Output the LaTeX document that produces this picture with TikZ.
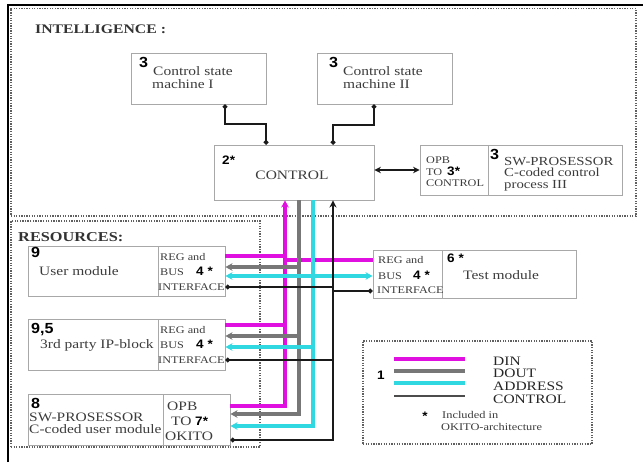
\documentclass[tikz,border=0pt]{standalone}
\usepackage{fontspec}
\setmainfont[FakeStretch=1.2]{Liberation Serif}
\newfontfamily\numfont[FakeStretch=1.1]{Liberation Sans}
\usetikzlibrary{arrows.meta,fit}
\definecolor{busm}{HTML}{E010E0}
\definecolor{busc}{HTML}{30D8E2}
\definecolor{busg}{HTML}{777777}
\definecolor{busk}{HTML}{1A1A1A}
\definecolor{boxgray}{HTML}{A8A8A8}
\definecolor{framegray}{HTML}{606060}
\definecolor{txtgray}{HTML}{3C3C3C}
\tikzset{
  box/.style={draw=boxgray, line width=0.8pt, inner sep=0pt},
  frame/.style={draw=framegray, line width=1pt, dash pattern=on 1.1pt off 1.1pt},
  tx/.style={inner sep=0pt, anchor=base west, text=txtgray, font=\fontsize{11}{12}\selectfont},
  sm/.style={tx, font=\fontsize{8.7}{10}\selectfont},
  lg/.style={tx, text=black!85, font=\fontsize{11}{12}\selectfont},
  hd/.style={tx, text=black!80, font=\bfseries\fontsize{11.2}{12}\selectfont},
  nb/.style={inner sep=0pt, anchor=base west, text=black, font=\numfont\bfseries\fontsize{12.5}{13}\selectfont},
  nbs/.style={nb, font=\numfont\bfseries\fontsize{10.5}{11}\selectfont},
  mag/.style={draw=busm, line width=3pt},
  gry/.style={draw=busg, line width=2.6pt},
  cya/.style={draw=busc, line width=3pt},
  blk/.style={draw=busk, line width=1.8pt},
  link/.style={draw=busk, line width=2.2pt},
  tipS/.tip={Stealth[length=6pt,width=6.5pt]},
  tipD/.tip={Circle[length=3.8pt]},
}
\begin{document}
\begin{tikzpicture}[x=0.03cm,y=-0.03cm]
\useasboundingbox (0,0) rectangle (643,462);
% outer frame
\draw[line width=1.8pt] (8,462) -- (8,5) -- (643,5);
% dotted areas
\node[frame, inner sep=0pt, fit={(11,8.5)(636,216)}] (intel) {};
\node[frame, inner sep=0pt, fit={(11,221)(260,447)}] (res) {};
\node[hd] (intelt) at (35,33) {INTELLIGENCE :};
\node[hd, font=\bfseries\fontsize{11.6}{12}\selectfont] (rest) at (18,241) {RESOURCES:};

% boxes
\node[box, fit={(131,53)(266,104)}] (csm1) {};
\node[box, fit={(317,53)(452,104)}] (csm2) {};
\node[box, fit={(214,145)(374,200)}] (ctrl) {};
\node[box, fit={(420,145)(488,195)}] (opb) {};
\node[box, fit={(488,145)(622,195)}] (sw3) {};
\node[box, fit={(28,246)(158,296)}] (um) {};
\node[box, fit={(158,246)(225,296)}] (umi) {};
\node[box, fit={(28,319)(158,370)}] (ip) {};
\node[box, fit={(158,319)(225,370)}] (ipi) {};
\node[box, fit={(28,394)(163,445)}] (swu) {};
\node[box, fit={(163,394)(230,445)}] (swi) {};
\node[box, fit={(373,250)(442,298)}] (tmi) {};
\node[box, fit={(442,250)(576,298)}] (tm) {};
\node[frame, inner sep=0pt, fit={(363,341)(592,444)}] (leg) {};

% texts
\node[nb] (n1) at (139,67) {3};
\node[tx] (t1a) at (153,75) {Control state};
\node[tx] (t1b) at (152,88) {machine I};
\node[nb] (n2) at (329,67) {3};
\node[tx] (t2a) at (343,75) {Control state};
\node[tx] (t2b) at (343,88) {machine II};
\node[nbs] (n3) at (222,164) {2*};
\node[tx, anchor=base] (t3) at (292,179) {CONTROL};
\node[sm] (o1) at (426,163) {OPB};
\node[sm] (o2) at (426,175) {TO};
\node[nbs] (o3) at (447,175) {3*};
\node[sm] (o4) at (426,186) {CONTROL};
\node[nb] (n4) at (490,159) {3};
\node[tx, font=\fontsize{10.5}{11}\selectfont] (s1) at (504,165) {SW-PROSESSOR};
\node[tx, font=\fontsize{10.5}{11}\selectfont] (s2) at (504,176.5) {C-coded control};
\node[tx, font=\fontsize{10.5}{11}\selectfont] (s3) at (504,188) {process III};

\node[nb] (n5) at (31,257) {9};
\node[tx] (u1) at (39,275) {User module};
\node[sm] (u2) at (160,260) {REG and};
\node[sm] (u3) at (160,275) {BUS};
\node[nbs] (u4) at (196,275) {4 *};
\node[sm] (u5) at (158,290) {INTERFACE};

\node[nb] (n6) at (31,333) {9,5};
\node[tx] (p1) at (40,348) {3rd party IP-block};
\node[sm] (p2) at (160,333) {REG and};
\node[sm] (p3) at (160,348) {BUS};
\node[nbs] (p4) at (196,348) {4 *};
\node[sm] (p5) at (158,363) {INTERFACE};

\node[nb] (n7) at (31,408) {8};
\node[tx] (w1) at (29,421) {SW-PROSESSOR};
\node[tx] (w2) at (29,433) {C-coded user module};
\node[tx] (w3) at (167,410) {OPB};
\node[tx] (w4) at (171,425) {TO};
\node[nbs] (w5) at (195,425) {7*};
\node[tx] (w6) at (165,440) {OKITO};

\node[sm] (e1) at (378,263) {REG and};
\node[sm] (e2) at (378,279) {BUS};
\node[nbs] (e3) at (413,279) {4 *};
\node[sm] (e4) at (377,293) {INTERFACE};
\node[nbs] (n8) at (447,262) {6 *};
\node[tx] (e5) at (463,279) {Test module};

% legend
\node[nbs] (l0) at (377,379) {1};
\node[lg] (l1) at (493,365) {DIN};
\node[lg] (l2) at (493,377) {DOUT};
\node[lg] (l3) at (493,390) {ADDRESS};
\node[lg] (l4) at (493,403) {CONTROL};
\node[nbs, anchor=center] (l5) at (425,416) {*};
\node[sm, font=\fontsize{8.8}{10}\selectfont] (l6) at (442,418) {Included in};
\node[sm, font=\fontsize{8.8}{10}\selectfont] (l7) at (441,430) {OKITO-architecture};
\draw[mag] (394,359) -- (465,359);
\draw[gry] (394,371) -- (465,371);
\draw[cya] (394,383) -- (465,383);
\draw[blk, line width=2.2pt, draw=black!70] (394,396) -- (465,396);

% intelligence connectors
\coordinate (k1) at (225,124);
\coordinate (k2) at (266,124);
\draw[link, tipD-tipD] (csm1.south -| k1) -- (k1) -- (k2) -- (ctrl.north -| k2);
\coordinate (k3) at (374,125);
\coordinate (k4) at (333,125);
\draw[link, tipD-tipD] (csm2.south -| k3) -- (k3) -- (k4) -- (ctrl.north -| k4);
\coordinate (y170) at (0,170);
\draw[blk, {Stealth[length=5.5pt,width=5.5pt]}-{Stealth[length=5.5pt,width=5.5pt]}] (ctrl.east |- y170) -- (opb.west |- y170);

% bus x positions
\coordinate (xm) at (285,0);
\coordinate (xg) at (299,0);
\coordinate (xc) at (313,0);
\coordinate (xk) at (333,0);
\coordinate (ya) at (0,256);
\coordinate (yb) at (0,260);
\coordinate (yc) at (0,267);
\coordinate (yd) at (0,276);
\coordinate (ye) at (0,287);
\coordinate (yf) at (0,291);
\coordinate (yg) at (0,325);
\coordinate (yh) at (0,336);
\coordinate (yi) at (0,347);
\coordinate (yj) at (0,360);
\coordinate (yk) at (0,406);
\coordinate (yl) at (0,414);
\coordinate (ym) at (0,426);
\coordinate (yn) at (0,440);

% magenta DIN
\draw[mag, -tipS] (swi.east |- yk) -- (xm |- yk) -- (ctrl.south -| xm);
\draw[mag] (umi.east |- ya) -- (xm |- ya);
\draw[mag] (xm |- yb) -- (tmi.west |- yb);
\draw[mag] (ipi.east |- yg) -- (xm |- yg);
% gray DOUT
\draw[gry, -tipS] (ctrl.south -| xg) -- (xg |- yl) -- (swi.east |- yl);
\draw[gry, -tipS] (xg |- yc) -- (umi.east |- yc);
\draw[gry, -tipS] (xg |- yh) -- (ipi.east |- yh);
% cyan ADDRESS
\draw[cya, -tipS] (ctrl.south -| xc) -- (xc |- ym) -- (swi.east |- ym);
\draw[cya, tipS-tipS] (umi.east |- yd) -- (tmi.west |- yd);
\draw[cya, -tipS] (xc |- yi) -- (ipi.east |- yi);
% black CONTROL
\draw[blk, tipD-{Stealth[length=6pt,width=6pt]}] (swi.east |- yn) -- (xk |- yn) -- (ctrl.south -| xk);
\draw[blk, tipD-] (umi.east |- ye) -- (xk |- ye);
\draw[blk, -tipD] (xk |- yf) -- (tmi.west |- yf);
\draw[blk, tipD-] (ipi.east |- yj) -- (xk |- yj);
\end{tikzpicture}
\end{document}
